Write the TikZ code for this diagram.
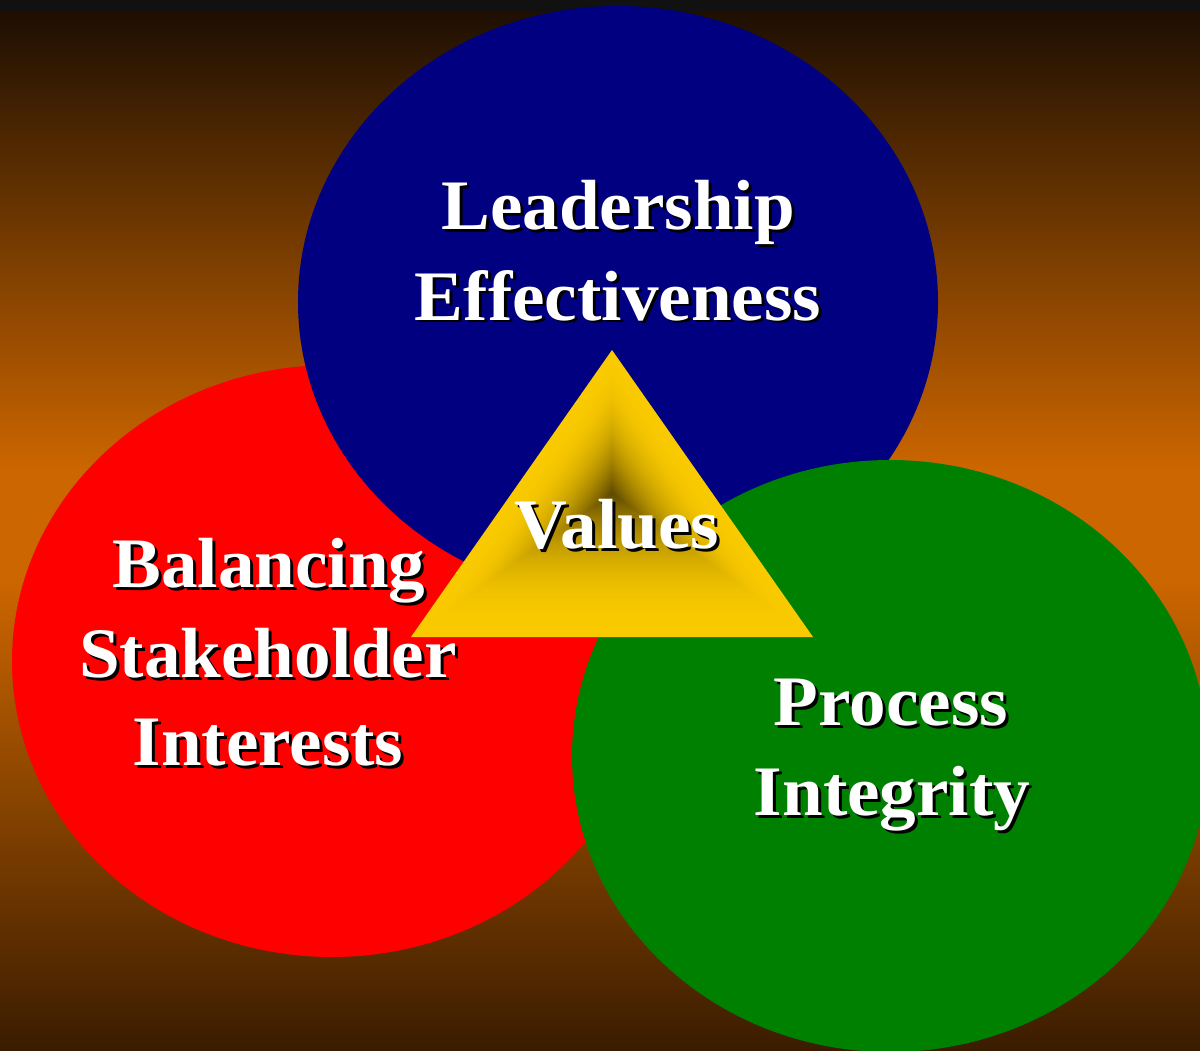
\documentclass[tikz,border=0pt]{standalone}
\usepackage{fontspec}
\setmainfont{Liberation Serif}[FakeStretch=1.03]
\usetikzlibrary{calc}

\definecolor{strip}{HTML}{111111}
\definecolor{bgtop}{HTML}{1E0F02}
\definecolor{bgmid}{HTML}{CC6600}
\definecolor{bgbot}{HTML}{3A1C00}
\definecolor{lblue}{HTML}{000080}
\definecolor{lred}{HTML}{FF0000}
\definecolor{lgreen}{HTML}{008000}
\definecolor{gold}{HTML}{FACA00}
\definecolor{tridark}{HTML}{5A4600}

\tikzset{
  lbl/.style={anchor=base, text=white, inner sep=0pt,
              font=\fontsize{71}{85}\selectfont\bfseries},
  lblshadow/.style={lbl, text=black}
}

% white label with a dark drop shadow
\newcommand\shlabel[3]{%
  \node[lblshadow] (#1-sh) at ([shift={(3,3)}]#2) {#3};
  \node[lbl] (#1) at (#2) {#3};}

\begin{document}
\begin{tikzpicture}[x=1pt, y=-1pt]
  \useasboundingbox (0,0) rectangle (1200,1051);

  % backdrop: dark band, then dark-orange-dark vertical blend
  \fill[strip] (0,0) rectangle (1200,13);
  \shade[top color=bgtop, bottom color=bgmid] (0,13) rectangle (1200,470.5);
  \fill[bgmid] (0,470) rectangle (1200,580.5);
  \shade[top color=bgmid, bottom color=bgbot] (0,580) rectangle (1200,1051);

  % the three areas
  \fill[lred]   (332,661) ellipse [x radius=320, y radius=296];
  \fill[lblue]  (618,302) ellipse [x radius=320, y radius=296];
  \fill[lgreen] (890,756) ellipse [x radius=318, y radius=296];

  % central triangle with a gradient running in from its edges
  \coordinate (apex) at (612,350);
  \coordinate (bl)   at (411,637);
  \coordinate (br)   at (813,637);
  \coordinate (mid)  at (612,493.5);
  \foreach \k in {0,...,59}{
    \pgfmathsetmacro\s{1-\k/60}
    \pgfmathsetmacro\p{100*(1-(1-\s)^2.3)}
    \fill[gold!\p!tridark] ($(mid)!\s!(apex)$) -- ($(mid)!\s!(bl)$)
                           -- ($(mid)!\s!(br)$) -- cycle;
  }

  % labels
  \shlabel{lead1}{618,230}{Leadership}
  \shlabel{lead2}{618,320}{Effectiveness}
  \shlabel{val}{617,548}{Values}
  \shlabel{bal1}{269,587}{Balancing}
  \shlabel{bal2}{268,677}{Stakeholder}
  \shlabel{bal3}{268,765}{Interests}
  \shlabel{proc1}{891,725}{Process}
  \shlabel{proc2}{892,815}{Integrity}
\end{tikzpicture}
\end{document}
